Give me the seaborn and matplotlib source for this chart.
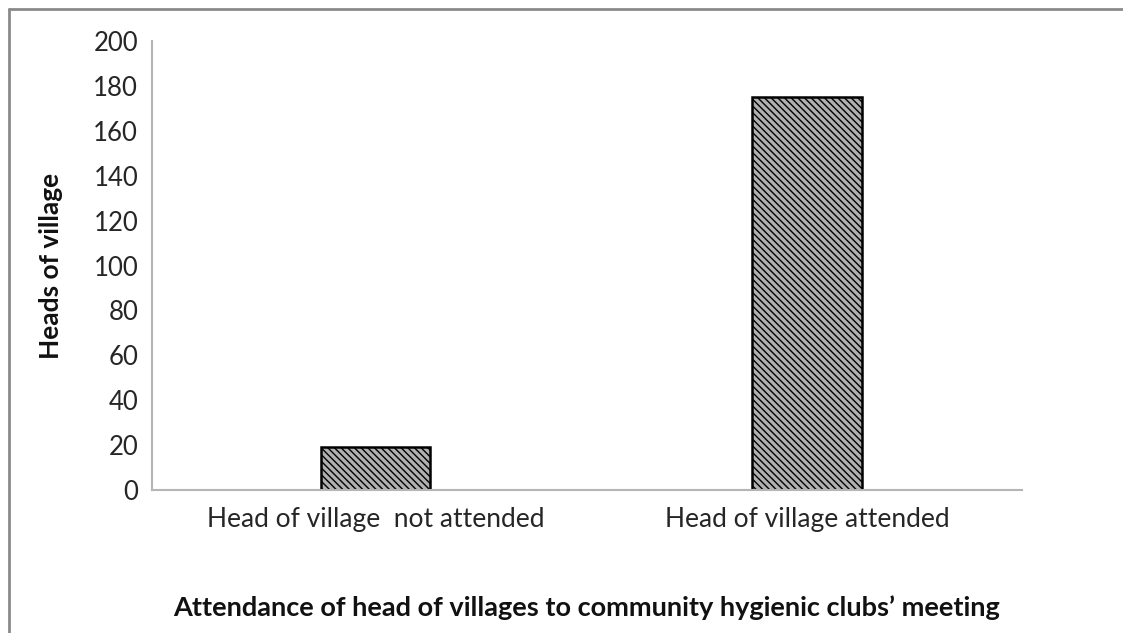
import matplotlib
matplotlib.use("Agg")
import matplotlib.pyplot as plt
from matplotlib.lines import Line2D
import seaborn as sns
import pandas as pd

categories = ["Head of village  not attended", "Head of village attended"]
heads = [19, 175]
y_ticks = [0, 20, 40, 60, 80, 100, 120, 140, 160, 180, 200]

sns.set_style("white")
plt.rcParams["font.family"] = ["Lato", "DejaVu Sans"]
plt.rcParams["hatch.linewidth"] = 1.0

df = pd.DataFrame({"category": categories, "heads": heads})

fig = plt.figure(figsize=(11.23, 6.33), dpi=100)
ax = fig.add_axes([0.1354, 0.2259, 0.7746, 0.7093])

sns.barplot(data=df, x="category", y="heads", color="#b0b0b0",
            width=0.253, edgecolor="black", linewidth=1.8, ax=ax)
for bar in ax.patches:
    bar.set_hatch("\\\\\\\\\\")

ax.set_ylim(0, 200)
ax.set_yticks(y_ticks)
ax.set_xlim(-0.518, 1.498)

grey = "#b5b5b5"
for side in ("top", "right"):
    ax.spines[side].set_visible(False)
for side in ("left", "bottom"):
    ax.spines[side].set_color(grey)
    ax.spines[side].set_linewidth(1.5)

ax.tick_params(axis="y", length=5, width=1.2, color=grey, direction="out",
               labelsize=18.5, labelcolor="#262626", pad=5)
ax.tick_params(axis="x", length=0, labelsize=19, labelcolor="#262626", pad=12)

ax.set_ylabel("Heads of village", fontsize=19, fontweight="bold",
              color="#111111", labelpad=22)
ax.set_xlabel("Attendance of head of villages to community hygienic clubs\u2019 meeting",
              fontsize=19.5, fontweight="bold", color="#111111", labelpad=46)

# outer frame of the chart area (top and left edges)
fx = 8.5 / 1123
fy = 1 - 8.5 / 633
fig.add_artist(Line2D([fx, 1.0], [fy, fy], transform=fig.transFigure,
                      color="#8a8a8a", linewidth=2.0))
fig.add_artist(Line2D([fx, fx], [0.0, fy], transform=fig.transFigure,
                      color="#8a8a8a", linewidth=2.0))

fig.savefig("out.png", dpi=100)
